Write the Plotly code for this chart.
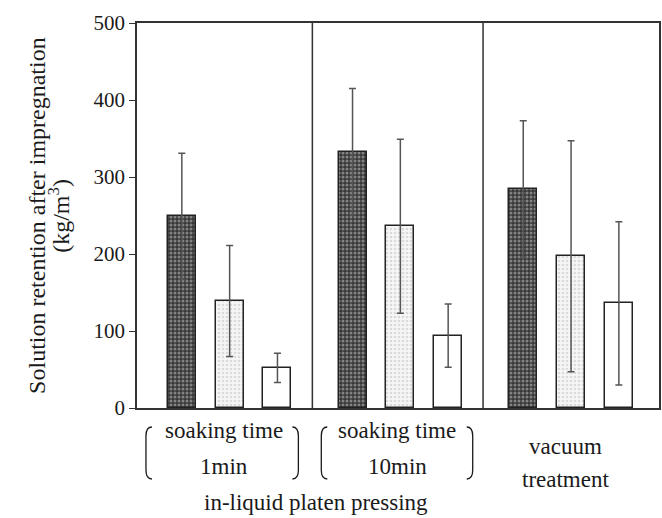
import plotly.graph_objects as go

groups = ["soaking time 1min", "soaking time 10min", "vacuum treatment"]
series = ["dark", "light", "white"]
dark_vals = [249, 333, 284]
light_vals = [139, 236, 197]
white_vals = [52, 94, 136]
dark_err = [82, 82, 89]
light_err = [72, 113, 150]
white_err = [19, 41, 106]
y_ticks = [0, 100, 200, 300, 400, 500]

W, H = 662, 518
L, R, T, B = 137, 1, 23, 110
PW, PH = W - L - R, H - T - B

group_step = 3.57
group_pos = [i * group_step for i in range(len(groups))]
FONT = "Liberation Serif, Times New Roman, serif"
INK = "#1a1a1a"

styles = [
    dict(color="#5a5a5a", pattern=dict(shape=".", fgcolor="#d0d0d0", bgcolor="#383838", size=4, solidity=0.45)),
    dict(color="#eeeeee", pattern=dict(shape=".", fgcolor="#bdbdbd", bgcolor="#f6f6f6", size=4, solidity=0.35)),
    dict(color="white"),
]
vals = [dark_vals, light_vals, white_vals]
errs = [dark_err, light_err, white_err]

fig = go.Figure()
for j, name in enumerate(series):
    st = styles[j]
    marker = dict(color=st["color"], line=dict(color="#222222", width=1.5))
    if "pattern" in st:
        marker["pattern"] = st["pattern"]
    fig.add_trace(go.Bar(
        x=[g + j for g in group_pos], y=vals[j], name=name,
        width=0.585, marker=marker,
        error_y=dict(type="data", array=errs[j], visible=True,
                     color="#555555", thickness=1.5, width=3.5),
        showlegend=False, hoverinfo="skip",
    ))

x_left = -0.9375
x_right = x_left + PW / 48.0

# separators between groups
for g in group_pos[1:]:
    fig.add_shape(type="line", xref="x", yref="paper", x0=g - 0.84, x1=g - 0.84,
                  y0=0, y1=1, line=dict(color="#333333", width=1.5))

def px(xp):
    return (xp - L) / PW

def py(yp):
    return (T + PH - yp) / PH

ann = []
def add_text(text, xp, yp, size=23, angle=0):
    ann.append(dict(text=text, xref="paper", yref="paper", x=px(xp), y=py(yp),
                    xanchor="center", yanchor="middle", showarrow=False,
                    textangle=angle,
                    font=dict(family=FONT, size=size, color=INK)))

add_text("soaking time", 224, 431)
add_text("1min", 224, 466)
add_text("soaking time", 398, 431)
add_text("10min", 398, 466)
add_text("vacuum", 567, 447)
add_text("treatment", 567, 479)
add_text("in-liquid platen pressing", 316.7, 502)

add_text("Solution retention after impregnation", 36, T + PH / 2, size=24, angle=-90)
add_text("(kg/m<sup>3</sup>)", 58, T + PH / 2, size=24, angle=-90)

# brackets
def bracket_left(x0, t, b):
    return (f"M {px(x0+6)},{py(t)} Q {px(x0)},{py(t)} {px(x0)},{py(t+9)} "
            f"L {px(x0)},{py(b-9)} Q {px(x0)},{py(b)} {px(x0+6)},{py(b)}")

def bracket_right(x0, t, b):
    return (f"M {px(x0-6)},{py(t)} Q {px(x0)},{py(t)} {px(x0)},{py(t+9)} "
            f"L {px(x0)},{py(b-9)} Q {px(x0)},{py(b)} {px(x0-6)},{py(b)}")

for (xl, xr) in [(146, 299), (322, 474)]:
    for path in (bracket_left(xl, 427, 479), bracket_right(xr, 427, 479)):
        fig.add_shape(type="path", xref="paper", yref="paper", path=path,
                      line=dict(color=INK, width=1.3))

fig.update_layout(
    width=W, height=H,
    margin=dict(l=L, r=R, t=T, b=B, pad=0),
    paper_bgcolor="white", plot_bgcolor="white",
    annotations=ann,
    bargap=0,
)
fig.update_xaxes(range=[x_left, x_right], showticklabels=False, ticks="",
                 showgrid=False, zeroline=False, showline=True,
                 linecolor="#333333", linewidth=1.5, mirror=True)
fig.update_yaxes(range=[0, 500], tickvals=y_ticks,
                 ticks="outside", ticklen=6, tickwidth=1.2, tickcolor="#333333",
                 showgrid=False, zeroline=False, showline=True,
                 linecolor="#333333", linewidth=1.5, mirror=True,
                 tickfont=dict(family=FONT, size=21, color=INK))

fig.write_html("out.html")
